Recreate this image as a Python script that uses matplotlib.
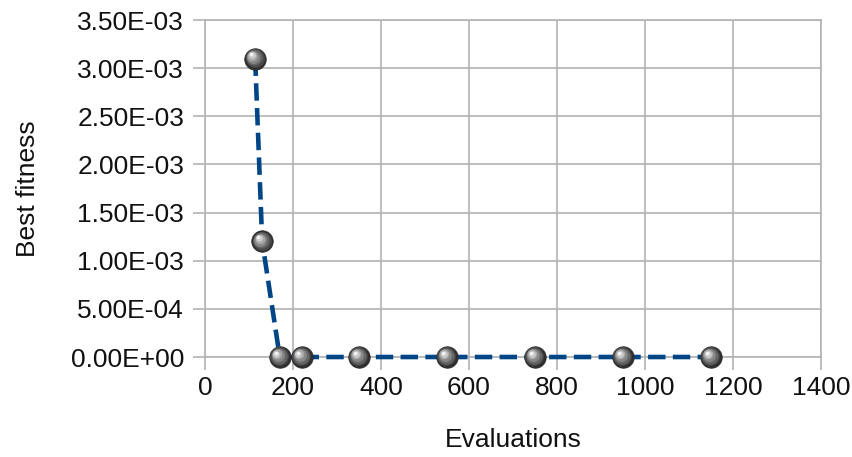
import numpy as np
import matplotlib
matplotlib.use("Agg")
import matplotlib.pyplot as plt
from matplotlib import transforms
from matplotlib.ticker import FuncFormatter, MultipleLocator

plt.rcParams["font.family"] = ["Liberation Sans", "DejaVu Sans"]

# data
evaluations = [114, 130, 170, 220, 350, 550, 750, 950, 1150]
best_fitness = [3.1e-3, 1.2e-3, 0.0, 0.0, 0.0, 0.0, 0.0, 0.0, 0.0]

x_label = "Evaluations"
y_label = "Best fitness"

fig = plt.figure(figsize=(8.53, 4.57), dpi=100)
ax = fig.add_axes([0.2403, 0.2188, 0.7222, 0.7374])

grid_col = "#b3b3b3"
font_size = 19

ax.plot(evaluations, best_fitness, color="#004586", lw=3.3,
        linestyle=(0, (3.8, 1.6)), zorder=3, dash_capstyle="butt", clip_on=False)

# shaded "sphere" markers: dark base plus lighter layers shifted up-left
ax.plot(evaluations, best_fitness, "o", ms=15.5, mfc="#2e2e2e",
        mec="#2e2e2e", mew=0.5, ls="none", zorder=4, clip_on=False)
layers = [(13.5, "#4a4a4a", 0.4), (11.5, "#666666", 0.9), (9.3, "#868686", 1.4),
          (7.0, "#a8a8a8", 1.9), (4.8, "#cdcdcd", 2.5), (2.6, "#f2f2f2", 3.0)]
for ms, col, off in layers:
    tr = transforms.offset_copy(ax.transData, fig=fig, x=-off, y=off, units="points")
    ax.plot(evaluations, best_fitness, "o", ms=ms, mfc=col, mec="none",
            ls="none", zorder=5, transform=tr, clip_on=False)

ax.set_xlim(0, 1400)
ax.set_ylim(0, 3.5e-3)
ax.xaxis.set_major_locator(MultipleLocator(200))
ax.yaxis.set_major_locator(MultipleLocator(5e-4))


def sci_fmt(v, pos):
    s = "%.2E" % v
    return s


ax.yaxis.set_major_formatter(FuncFormatter(sci_fmt))

ax.grid(True, color=grid_col, lw=1.2)
ax.set_axisbelow(True)
for sp in ax.spines.values():
    sp.set_color(grid_col)
    sp.set_linewidth(1.2)

ax.tick_params(axis="both", direction="out", length=9, width=1.2, color=grid_col,
               labelsize=font_size, labelcolor="#111111", pad=6)
ax.tick_params(axis="x", pad=5)

ax.set_xlabel(x_label, fontsize=font_size, color="#111111", labelpad=20)
ax.set_ylabel(y_label, fontsize=font_size, color="#111111", labelpad=22)

fig.savefig("out.png", dpi=100)
